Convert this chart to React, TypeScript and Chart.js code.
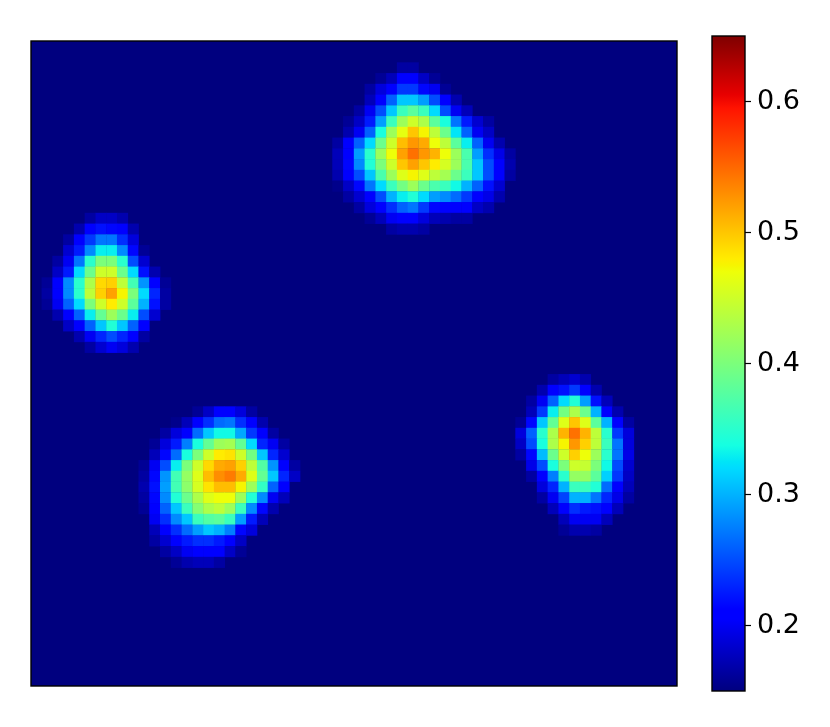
import React, { useEffect, useRef } from "react";
import { Chart, registerables } from "chart.js";

Chart.register(...registerables);

// Each row: [row index, first column, ...values]
const grid = 60;
const valueMin = 0.15;
const valueMax = 0.65;
const tickValues = [0.2, 0.3, 0.4, 0.5, 0.6];

const blobTop: number[][] = [
  [2, 34, .165, .165],
  [3, 32, .16, .175, .205, .205, .18, .16],
  [4, 31, .165, .19, .21, .24, .24, .215, .2, .16],
  [5, 31, .175, .205, .26, .31, .31, .29, .25, .205, .17],
  [6, 30, .165, .2, .25, .31, .36, .38, .36, .32, .25, .2, .175],
  [7, 29, .16, .18, .225, .29, .36, .42, .45, .43, .38, .34, .27, .225, .185, .165],
  [8, 29, .17, .2, .26, .34, .42, .465, .5, .475, .44, .39, .325, .26, .2, .18],
  [9, 28, .165, .205, .26, .32, .39, .45, .505, .525, .515, .47, .44, .38, .33, .26, .2, .17],
  [10, 28, .175, .21, .29, .35, .42, .47, .52, .545, .525, .51, .47, .42, .37, .29, .235, .195, .165],
  [11, 28, .175, .215, .28, .345, .4, .45, .5, .52, .5, .48, .455, .42, .37, .31, .25, .205, .17],
  [12, 28, .17, .205, .25, .31, .37, .42, .46, .475, .46, .44, .425, .39, .36, .31, .25, .205, .165],
  [13, 28, .155, .18, .215, .27, .32, .36, .395, .42, .39, .37, .36, .335, .3, .26, .22, .185],
  [14, 29, .165, .185, .21, .25, .3, .33, .345, .32, .29, .28, .265, .24, .21, .195, .17],
  [15, 30, .165, .19, .205, .235, .26, .27, .24, .215, .21, .205, .205, .18, .17],
  [16, 31, .16, .175, .2, .205, .205, .19, .175, .17, .165, .165],
  [17, 33, .165, .17, .17, .165],
];

const blobLeft: number[][] = [
  [16, 5, .165, .18, .18, .17],
  [17, 4, .17, .205, .22, .215, .205, .17],
  [18, 3, .165, .205, .24, .27, .27, .235, .19],
  [19, 3, .185, .225, .28, .33, .33, .28, .215, .16],
  [20, 2, .165, .2, .27, .35, .4, .4, .35, .25, .185],
  [21, 2, .18, .225, .32, .39, .45, .45, .39, .32, .22, .17],
  [22, 1, .16, .205, .28, .35, .43, .49, .495, .44, .365, .285, .205, .16],
  [23, 1, .165, .21, .28, .35, .44, .495, .52, .475, .4, .32, .23, .165],
  [24, 1, .16, .2, .26, .32, .4, .45, .48, .45, .38, .3, .22, .165],
  [25, 2, .17, .21, .26, .33, .385, .42, .39, .33, .25, .185],
  [26, 3, .18, .21, .26, .31, .345, .31, .26, .205],
  [27, 4, .17, .2, .23, .25, .23, .205, .165],
  [28, 5, .165, .185, .2, .19, .17],
];

const blobBottom: number[][] = [
  [34, 15, .16, .18, .205, .205, .19, .165],
  [35, 13, .155, .175, .205, .235, .265, .27, .235, .205, .17],
  [36, 12, .165, .19, .21, .265, .31, .335, .335, .295, .24, .205, .165],
  [37, 11, .16, .19, .225, .275, .34, .385, .42, .425, .385, .32, .23, .2, .165],
  [38, 11, .175, .215, .265, .34, .4, .45, .48, .485, .45, .395, .31, .23, .185],
  [39, 10, .16, .2, .25, .33, .4, .45, .49, .515, .52, .495, .44, .375, .285, .21, .165],
  [40, 10, .165, .215, .285, .365, .415, .46, .505, .53, .54, .515, .46, .385, .31, .23, .18],
  [41, 10, .17, .22, .29, .365, .41, .455, .485, .505, .505, .475, .42, .355, .26, .205],
  [42, 10, .165, .215, .28, .345, .39, .43, .46, .47, .47, .42, .345, .28, .2, .175],
  [43, 10, .16, .21, .26, .31, .36, .405, .43, .44, .42, .36, .28, .215, .17],
  [44, 11, .2, .235, .28, .31, .36, .375, .38, .36, .29, .225, .175],
  [45, 11, .175, .205, .235, .265, .29, .31, .3, .275, .215, .19],
  [46, 11, .165, .185, .205, .225, .235, .235, .225, .21, .18],
  [47, 12, .165, .18, .2, .205, .205, .205, .18, .16],
  [48, 13, .16, .17, .175, .175, .165],
];

const blobRight: number[][] = [
  [31, 48, .165, .175, .185, .17],
  [32, 47, .17, .205, .22, .24, .205, .17],
  [33, 46, .165, .2, .26, .32, .345, .29, .22, .175],
  [34, 46, .175, .24, .33, .395, .43, .39, .3, .21, .17],
  [35, 45, .16, .215, .31, .385, .46, .5, .46, .38, .3, .205, .165],
  [36, 45, .19, .26, .35, .43, .51, .545, .51, .44, .35, .24, .19],
  [37, 45, .18, .25, .34, .43, .475, .525, .495, .44, .36, .27, .19],
  [38, 45, .165, .215, .305, .39, .45, .495, .47, .42, .35, .27, .195],
  [39, 46, .195, .25, .34, .4, .45, .445, .4, .335, .25, .185],
  [40, 46, .165, .21, .275, .35, .415, .415, .38, .315, .24, .18],
  [41, 47, .19, .23, .3, .36, .36, .345, .265, .21, .175],
  [42, 47, .165, .2, .245, .3, .3, .27, .23, .195, .165],
  [43, 48, .175, .205, .235, .225, .22, .205, .175],
  [44, 49, .175, .2, .2, .2, .175],
  [45, 49, .16, .17, .17, .165],
];

const jetStops: [number, number, number, number][] = [
  [0, 0, 0, 127], [0.11, 0, 0, 255], [0.125, 0, 0, 255], [0.34, 0, 219, 255],
  [0.35, 0, 229, 247], [0.375, 21, 255, 226], [0.64, 238, 255, 8], [0.65, 246, 245, 0],
  [0.66, 255, 236, 0], [0.89, 255, 19, 0], [0.91, 232, 0, 0], [1, 127, 0, 0],
];

function jet(v: number): string {
  const f = Math.max(0, Math.min(1, (v - valueMin) / (valueMax - valueMin)));
  for (let i = 1; i < jetStops.length; i++) {
    const a = jetStops[i - 1];
    const b = jetStops[i];
    if (f <= b[0]) {
      const t = (f - a[0]) / (b[0] - a[0] || 1);
      const mix = (k: number) => Math.round(a[k] + (b[k] - a[k]) * t);
      return `rgb(${mix(1)},${mix(2)},${mix(3)})`;
    }
  }
  return "rgb(127,0,0)";
}

const cells = [...blobTop, ...blobLeft, ...blobBottom, ...blobRight].flatMap((r) =>
  r.slice(2).map((v, i) => ({ x: r[1] + i + 0.5, y: r[0] + 0.5, v }))
);

const frame = {
  id: "frame",
  beforeDatasetsDraw(c: any) {
    if (c.options.plugins.frame?.fill) {
      const a = c.chartArea;
      c.ctx.save();
      c.ctx.fillStyle = c.options.plugins.frame.fill;
      c.ctx.fillRect(a.left, a.top, a.width, a.height);
      c.ctx.restore();
    }
  },
  afterDraw(c: any) {
    const a = c.chartArea;
    c.ctx.save();
    c.ctx.strokeStyle = "#000";
    c.ctx.lineWidth = 1.4;
    c.ctx.strokeRect(a.left, a.top, a.width, a.height);
    c.ctx.restore();
  },
};

export default function App() {
  const heatRef = useRef<HTMLCanvasElement>(null);
  const barRef = useRef<HTMLCanvasElement>(null);

  useEffect(() => {
    document.body.style.background = "#fff";
    const heat = new Chart(heatRef.current!, {
      type: "scatter",
      data: {
        datasets: [
          {
            data: cells as any,
            pointStyle: "rect",
            borderWidth: 0,
            pointBorderWidth: 0,
            pointRadius: (ctx: any) => (ctx.chart.chartArea ? (ctx.chart.chartArea.width / grid) * Math.SQRT1_2 + 0.25 : 7),
            pointBackgroundColor: (ctx: any) => jet(ctx.raw?.v ?? valueMin),
          } as any,
        ],
      },
      options: {
        animation: false,
        responsive: false,
        layout: { padding: { left: 2, top: 2, right: 2, bottom: 3 }, autoPadding: false },
        scales: {
          x: { type: "linear", min: 0, max: grid, display: false },
          y: { type: "linear", min: 0, max: grid, reverse: true, display: false },
        },
        plugins: { legend: { display: false }, tooltip: { enabled: false }, frame: { fill: "rgb(0,0,127)" } } as any,
      },
      plugins: [frame],
    });

    const bar = new Chart(barRef.current!, {
      type: "bar",
      data: {
        labels: ["colorbar"],
        datasets: [
          {
            data: [[valueMin, valueMax]] as any,
            barPercentage: 1,
            categoryPercentage: 1,
            backgroundColor: (ctx: any) => {
              const a = ctx.chart.chartArea;
              if (!a) return "#000";
              const g = ctx.chart.ctx.createLinearGradient(0, a.bottom, 0, a.top);
              jetStops.forEach((s) => g.addColorStop(s[0], `rgb(${s[1]},${s[2]},${s[3]})`));
              return g;
            },
          },
        ],
      },
      options: {
        animation: false,
        responsive: false,
        layout: { padding: { left: 12, top: 6, bottom: 6, right: 0 }, autoPadding: false },
        scales: {
          x: { display: false },
          y: {
            position: "right",
            min: valueMin,
            max: valueMax,
            afterBuildTicks: (s: any) => {
              s.ticks = tickValues.map((value) => ({ value }));
            },
            afterFit: (s: any) => {
              s.width = 85;
              s.paddingTop = 0;
              s.paddingBottom = 0;
            },
            grid: { drawOnChartArea: false, tickLength: 6, tickColor: "#000", tickWidth: 1.2 },
            border: { display: false },
            ticks: {
              color: "#000",
              padding: 6,
              autoSkip: false,
              font: { family: "'DejaVu Sans'", size: 27 },
              callback: (v: any) => Number(v).toFixed(1),
            },
          },
        },
        plugins: { legend: { display: false }, tooltip: { enabled: false } },
      },
      plugins: [frame],
    });

    return () => {
      heat.destroy();
      bar.destroy();
    };
  }, []);

  return (
    <div style={{ position: "fixed", left: 0, top: 0, width: 830, height: 727, background: "#fff", overflow: "hidden" }}>
      <canvas ref={heatRef} width={650} height={650} style={{ position: "absolute", left: 29, top: 39 }} />
      <canvas ref={barRef} width={130} height={667} style={{ position: "absolute", left: 700, top: 30 }} />
    </div>
  );
}
